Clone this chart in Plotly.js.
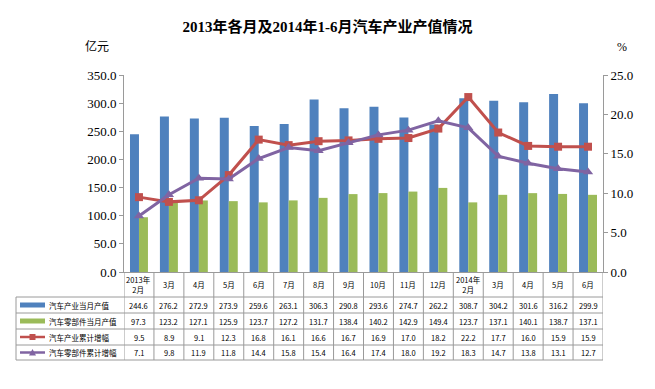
<!DOCTYPE html>
<html><head><meta charset="utf-8">
<script src="https://cdn.plot.ly/plotly-3.0.1.min.js"></script>
<style>body{margin:0;background:#fff}#c{width:655px;height:389px}</style>
</head><body><div id="c"></div>
<script>
const categories = ['2013年<br>2月','3月','4月','5月','6月','7月','8月','9月','10月','11月','12月','2014年<br>2月','3月','4月','5月','6月'];
const seriesNames = ['汽车产业当月产值','汽车零部件当月产值','汽车产业累计增幅','汽车零部件累计增幅'];
const autoOutput = [244.6,276.2,272.9,273.9,259.6,263.1,306.3,290.8,293.6,274.7,262.2,308.7,304.2,301.6,316.2,299.9];
const partsOutput = [97.3,123.2,127.1,125.9,123.7,127.2,131.7,138.4,140.2,142.9,149.4,123.7,137.1,140.1,138.7,137.1];
const autoGrowth = [9.5,8.9,9.1,12.3,16.8,16.1,16.6,16.7,16.9,17.0,18.2,22.2,17.7,16.0,15.9,15.9];
const partsGrowth = [7.1,9.8,11.9,11.8,14.4,15.8,15.4,16.4,17.4,18.0,19.2,18.3,14.7,13.8,13.1,12.7];
const leftTicks = [0,50,100,150,200,250,300,350];
const rightTicks = [0,5,10,15,20,25];

const colors = ['#4F81BD','#9BBB59','#C0504D','#8064A2'];
const idx = categories.map((_,i)=>i);
const L=124, R=603, T=75, B=272;
const W=R-L, H=B-T;
const X = px => (px-L)/W;
const Y = py => (B-py)/H;
const numFont = 'Liberation Serif, Noto Sans CJK SC, serif';
const cjk = 'Noto Sans CJK SC, sans-serif';

const traces = [
  {type:'bar', x:idx, y:autoOutput, name:seriesNames[0], marker:{color:colors[0]}, yaxis:'y'},
  {type:'bar', x:idx, y:partsOutput, name:seriesNames[1], marker:{color:colors[1]}, yaxis:'y'},
  {type:'scatter', mode:'lines+markers', x:idx, y:autoGrowth, name:seriesNames[2], yaxis:'y2',
   line:{color:colors[2], width:3}, marker:{symbol:'square', size:8, color:colors[2]}},
  {type:'scatter', mode:'lines+markers', x:idx, y:partsGrowth, name:seriesNames[3], yaxis:'y2',
   line:{color:colors[3], width:3}, marker:{symbol:'triangle-up', size:9, color:colors[3]}}
];

const gridColor = '#9a9a9a';
const shapes = [];
const annotations = [];
const rowLines = [297,313,329,345,360];
const rowCenters = [305,321,337,352.5];
const tableLeft = 16;
// horizontal lines
rowLines.forEach(py=>{
  shapes.push({type:'line', xref:'paper', yref:'paper', x0:X(tableLeft), x1:X(R), y0:Y(py), y1:Y(py), line:{color:gridColor, width:1}});
});
// vertical lines
for(let i=0;i<=categories.length;i++){
  shapes.push({type:'line', xref:'x', yref:'paper', x0:i-0.5, x1:i-0.5, y0:Y(B), y1:Y(360), line:{color:gridColor, width:1}});
}
shapes.push({type:'line', xref:'paper', yref:'paper', x0:X(tableLeft), x1:X(tableLeft), y0:Y(297), y1:Y(360), line:{color:gridColor, width:1}});

// header
categories.forEach((c,i)=>{
  annotations.push({xref:'x', yref:'paper', x:i, y:Y(284.5), text:c, showarrow:false, xanchor:'center', yanchor:'middle',
    font:{family:cjk, size:7.5, color:'#000'}});
});
// data rows
const rows = [autoOutput, partsOutput, autoGrowth, partsGrowth];
rows.forEach((arr,r)=>{
  arr.forEach((v,i)=>{
    annotations.push({xref:'x', yref:'paper', x:i, y:Y(rowCenters[r]), text:v.toFixed(1), showarrow:false, xanchor:'center', yanchor:'middle',
      font:{family:cjk, size:7.5, color:'#000'}});
  });
  annotations.push({xref:'paper', yref:'paper', x:X(47), y:Y(rowCenters[r]), text:seriesNames[r], showarrow:false, xanchor:'left', yanchor:'middle',
    font:{family:cjk, size:7.5, color:'#000'}});
});
// legend keys
const kx0=20, kx1=45;
shapes.push({type:'rect', xref:'paper', yref:'paper', x0:X(kx0), x1:X(kx1), y0:Y(rowCenters[0]+2.5), y1:Y(rowCenters[0]-2.5), fillcolor:colors[0], line:{width:0}});
shapes.push({type:'rect', xref:'paper', yref:'paper', x0:X(kx0), x1:X(kx1), y0:Y(rowCenters[1]+2.5), y1:Y(rowCenters[1]-2.5), fillcolor:colors[1], line:{width:0}});
shapes.push({type:'line', xref:'paper', yref:'paper', x0:X(kx0), x1:X(kx1), y0:Y(rowCenters[2]), y1:Y(rowCenters[2]), line:{color:colors[2], width:2.5}});
shapes.push({type:'rect', xref:'paper', yref:'paper', x0:X(29.5), x1:X(35.5), y0:Y(rowCenters[2]+3), y1:Y(rowCenters[2]-3), fillcolor:colors[2], line:{width:0}});
shapes.push({type:'line', xref:'paper', yref:'paper', x0:X(kx0), x1:X(kx1), y0:Y(rowCenters[3]), y1:Y(rowCenters[3]), line:{color:colors[3], width:2.5}});
shapes.push({type:'path', xref:'paper', yref:'paper',
  path:`M ${X(29)} ${Y(rowCenters[3]+3)} L ${X(36)} ${Y(rowCenters[3]+3)} L ${X(32.5)} ${Y(rowCenters[3]-3.5)} Z`,
  fillcolor:colors[3], line:{width:0}});

// unit labels
annotations.push({xref:'paper', yref:'paper', x:X(97), y:Y(46), text:'亿元', showarrow:false, xanchor:'center', yanchor:'middle', font:{family:cjk, size:12, color:'#000'}});
annotations.push({xref:'paper', yref:'paper', x:X(622), y:Y(47), text:'%', showarrow:false, xanchor:'center', yanchor:'middle', font:{family:numFont, size:12, color:'#000'}});

const layout = {
  width:655, height:389,
  margin:{l:L, r:655-R, t:T, b:389-B},
  paper_bgcolor:'#fff', plot_bgcolor:'#fff',
  showlegend:false,
  barmode:'group', bargap:0.4, bargroupgap:0,
  title:{text:'2013年各月及2014年1-6月汽车产业产值情况', x:0.5, xanchor:'center', y:1-27/389, yanchor:'middle',
    font:{family:'Liberation Serif, Noto Sans CJK SC, serif', size:15, color:'#000', weight:'bold'}},
  xaxis:{type:'linear', range:[-0.5, categories.length-0.5], showticklabels:false, ticks:'', showgrid:false, zeroline:false,
    showline:true, linecolor:gridColor, linewidth:1, fixedrange:true},
  yaxis:{range:[0,350], tickvals:leftTicks, ticktext:leftTicks.map(v=>v.toFixed(1)), showgrid:false, zeroline:false,
    showline:true, linecolor:gridColor, linewidth:1, ticks:'outside', ticklen:4, tickcolor:gridColor,
    tickfont:{family:numFont, size:13, color:'#000'}},
  yaxis2:{range:[0,25], tickvals:rightTicks, ticktext:rightTicks.map(v=>v.toFixed(1)), overlaying:'y', side:'right', showgrid:false, zeroline:false,
    showline:true, linecolor:gridColor, linewidth:1, ticks:'outside', ticklen:4, tickcolor:gridColor,
    tickfont:{family:numFont, size:13, color:'#000'}},
  shapes:shapes, annotations:annotations
};
Plotly.newPlot('c', traces, layout, {displayModeBar:false, staticPlot:true});
</script></body></html>
